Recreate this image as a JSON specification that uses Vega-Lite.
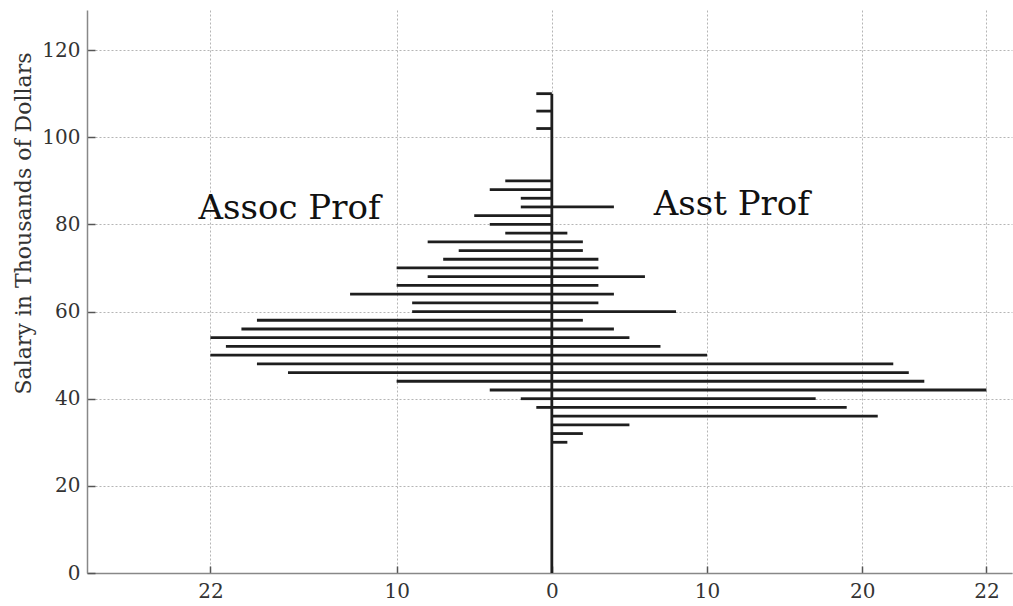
{
  "$schema": "https://vega.github.io/schema/vega-lite/v6.json",
  "width": 925,
  "height": 563,
  "autosize": {"type": "none"},
  "padding": {"left": 87, "top": 10, "right": 1, "bottom": 33},
  "background": "white",
  "datasets": {
    "salaries": [
      {"rank": "Assoc Prof", "salary": 38, "count": 1},
      {"rank": "Assoc Prof", "salary": 40, "count": 2},
      {"rank": "Assoc Prof", "salary": 42, "count": 4},
      {"rank": "Assoc Prof", "salary": 44, "count": 10},
      {"rank": "Assoc Prof", "salary": 46, "count": 17},
      {"rank": "Assoc Prof", "salary": 48, "count": 19},
      {"rank": "Assoc Prof", "salary": 50, "count": 22},
      {"rank": "Assoc Prof", "salary": 52, "count": 21},
      {"rank": "Assoc Prof", "salary": 54, "count": 22},
      {"rank": "Assoc Prof", "salary": 56, "count": 20},
      {"rank": "Assoc Prof", "salary": 58, "count": 19},
      {"rank": "Assoc Prof", "salary": 60, "count": 9},
      {"rank": "Assoc Prof", "salary": 62, "count": 9},
      {"rank": "Assoc Prof", "salary": 64, "count": 13},
      {"rank": "Assoc Prof", "salary": 66, "count": 10},
      {"rank": "Assoc Prof", "salary": 68, "count": 8},
      {"rank": "Assoc Prof", "salary": 70, "count": 10},
      {"rank": "Assoc Prof", "salary": 72, "count": 7},
      {"rank": "Assoc Prof", "salary": 74, "count": 6},
      {"rank": "Assoc Prof", "salary": 76, "count": 8},
      {"rank": "Assoc Prof", "salary": 78, "count": 3},
      {"rank": "Assoc Prof", "salary": 80, "count": 4},
      {"rank": "Assoc Prof", "salary": 82, "count": 5},
      {"rank": "Assoc Prof", "salary": 84, "count": 2},
      {"rank": "Assoc Prof", "salary": 86, "count": 2},
      {"rank": "Assoc Prof", "salary": 88, "count": 4},
      {"rank": "Assoc Prof", "salary": 90, "count": 3},
      {"rank": "Assoc Prof", "salary": 102, "count": 1},
      {"rank": "Assoc Prof", "salary": 106, "count": 1},
      {"rank": "Assoc Prof", "salary": 110, "count": 1},
      {"rank": "Asst Prof", "salary": 30, "count": 1},
      {"rank": "Asst Prof", "salary": 32, "count": 2},
      {"rank": "Asst Prof", "salary": 34, "count": 5},
      {"rank": "Asst Prof", "salary": 36, "count": 21},
      {"rank": "Asst Prof", "salary": 38, "count": 19},
      {"rank": "Asst Prof", "salary": 40, "count": 17},
      {"rank": "Asst Prof", "salary": 42, "count": 28},
      {"rank": "Asst Prof", "salary": 44, "count": 24},
      {"rank": "Asst Prof", "salary": 46, "count": 23},
      {"rank": "Asst Prof", "salary": 48, "count": 22},
      {"rank": "Asst Prof", "salary": 50, "count": 10},
      {"rank": "Asst Prof", "salary": 52, "count": 7},
      {"rank": "Asst Prof", "salary": 54, "count": 5},
      {"rank": "Asst Prof", "salary": 56, "count": 4},
      {"rank": "Asst Prof", "salary": 58, "count": 2},
      {"rank": "Asst Prof", "salary": 60, "count": 8},
      {"rank": "Asst Prof", "salary": 62, "count": 3},
      {"rank": "Asst Prof", "salary": 64, "count": 4},
      {"rank": "Asst Prof", "salary": 66, "count": 3},
      {"rank": "Asst Prof", "salary": 68, "count": 6},
      {"rank": "Asst Prof", "salary": 70, "count": 3},
      {"rank": "Asst Prof", "salary": 72, "count": 3},
      {"rank": "Asst Prof", "salary": 74, "count": 2},
      {"rank": "Asst Prof", "salary": 76, "count": 2},
      {"rank": "Asst Prof", "salary": 78, "count": 1},
      {"rank": "Asst Prof", "salary": 84, "count": 4}
    ],
    "labels": [
      {"label": "Assoc Prof", "x": -16.9, "y": 83.5},
      {"label": "Asst Prof", "x": 11.6, "y": 84.4}
    ]
  },
  "layer": [
    {
      "data": {"name": "salaries"},
      "transform": [
        {"calculate": "datum.rank == 'Assoc Prof' ? -datum.count : datum.count", "as": "signed"}
      ],
      "mark": {"type": "rule", "color": "#1e1e1e", "strokeWidth": 2.8},
      "encoding": {
        "x": {
          "field": "signed",
          "type": "quantitative",
          "scale": {"domain": [-29.95, 29.65], "nice": false, "zero": false},
          "axis": {
            "title": null,
            "values": [-22, -10, 0, 10, 20, 28],
            "labelExpr": "datum.value == 28 ? '22' : format(abs(datum.value), 'd')",
            "grid": true,
            "tickSize": -7,
            "labelPadding": 15
          }
        },
        "x2": {"datum": 0},
        "y": {
          "field": "salary",
          "type": "quantitative",
          "scale": {"domain": [0, 129.2], "nice": false},
          "axis": {
            "title": "Salary in Thousands of Dollars",
            "values": [0, 20, 40, 60, 80, 100, 120],
            "grid": true,
            "tickSize": -8,
            "labelPadding": 15,
            "titleX": -64,
            "titleY": 213,
            "titleAlign": "center",
            "titleBaseline": "middle",
            "titleAngle": -90
          }
        }
      }
    },
    {
      "data": {"name": "salaries"},
      "transform": [
        {"aggregate": [{"op": "max", "field": "salary", "as": "top"}]}
      ],
      "mark": {"type": "rule", "color": "#1e1e1e", "strokeWidth": 2.8},
      "encoding": {
        "x": {"datum": 0, "type": "quantitative"},
        "y": {"field": "top", "type": "quantitative"},
        "y2": {"datum": 0}
      }
    },
    {
      "data": {"name": "labels"},
      "mark": {"type": "text", "font": "DejaVu Serif", "fontSize": 34, "color": "#111", "align": "center", "baseline": "middle"},
      "encoding": {
        "x": {"field": "x", "type": "quantitative"},
        "y": {"field": "y", "type": "quantitative"},
        "text": {"field": "label"}
      }
    }
  ],
  "config": {
    "font": "DejaVu Serif",
    "view": {"stroke": null},
    "axis": {
      "domainColor": "#888",
      "domainWidth": 1.5,
      "tickColor": "#555",
      "tickWidth": 1.5,
      "gridColor": "#b5b5b5",
      "gridDash": [2, 2],
      "gridWidth": 1,
      "labelFont": "DejaVu Serif",
      "labelFontSize": 20,
      "labelColor": "#333",
      "titleFont": "DejaVu Serif",
      "titleFontSize": 22,
      "titleFontWeight": "normal",
      "titleColor": "#333"
    }
  }
}
